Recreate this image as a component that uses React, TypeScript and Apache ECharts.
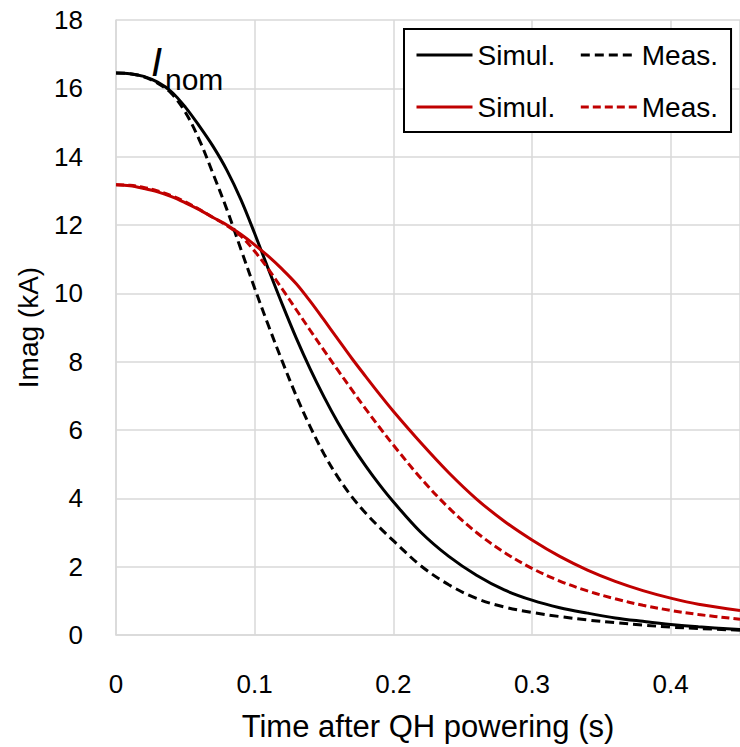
import React, { useEffect, useRef } from "react";
import * as echarts from "echarts";

// Time after QH powering (s)
const timeS = [
  0, 0.01, 0.02, 0.03, 0.04, 0.05, 0.06, 0.07, 0.08, 0.09, 0.1, 0.11, 0.12, 0.13, 0.14,
  0.15, 0.16, 0.17, 0.18, 0.19, 0.2, 0.22, 0.24, 0.26, 0.28, 0.3, 0.32, 0.34, 0.36, 0.38,
  0.4, 0.42, 0.45,
];

// Imag (kA)
const simNominal = [
  16.45, 16.43, 16.35, 16.18, 15.9, 15.45, 14.9, 14.3, 13.6, 12.75, 11.75, 10.7, 9.67, 8.69, 7.79,
  6.97, 6.22, 5.55, 4.95, 4.4, 3.9, 3.0, 2.3, 1.75, 1.32, 1.02, 0.8, 0.64, 0.5, 0.4,
  0.31, 0.24, 0.16,
];
const measNominal = [
  16.45, 16.43, 16.34, 16.15, 15.85, 15.3, 14.5, 13.5, 12.45, 11.3, 10.15, 9.05, 8.0, 7.0, 6.1,
  5.3, 4.62, 4.05, 3.57, 3.15, 2.76, 2.02, 1.47, 1.07, 0.82, 0.66, 0.54, 0.44, 0.36, 0.29,
  0.23, 0.19, 0.14,
];
const simLower = [
  13.18, 13.15, 13.07, 12.97, 12.83, 12.65, 12.45, 12.22, 12.0, 11.73, 11.42, 11.08, 10.7, 10.28, 9.77,
  9.22, 8.66, 8.1, 7.57, 7.05, 6.55, 5.62, 4.75, 3.98, 3.33, 2.78, 2.3, 1.9, 1.57, 1.3,
  1.08, 0.9, 0.72,
];
const measLower = [
  13.18, 13.16, 13.1, 13.0, 12.86, 12.68, 12.46, 12.22, 11.98, 11.68, 11.23, 10.7, 10.12, 9.52, 8.92,
  8.33, 7.75, 7.18, 6.62, 6.08, 5.56, 4.58, 3.72, 3.0, 2.42, 1.95, 1.58, 1.29, 1.06, 0.87,
  0.72, 0.6, 0.46,
];

const yTicks = { min: 0, max: 18, interval: 2 };
const xTicks = { min: 0, max: 0.45, interval: 0.1 };

const BLACK = "#000000";
const RED = "#C00000";
const FONT = "Liberation Sans";

const pairs = (vals: number[]) => timeS.map((t, i) => [t, vals[i]]);

export default function App() {
  const ref = useRef<HTMLDivElement>(null);
  useEffect(() => {
    if (!ref.current) return;
    const chart = echarts.init(ref.current, null, { renderer: "svg" });
    const mk = (name: string, vals: number[], color: string, dash: any) => ({
      name,
      type: "line",
      data: pairs(vals),
      symbol: "none",
      smooth: 0.35,
      lineStyle: { color, width: 3, type: dash },
      itemStyle: { color },
      z: 3,
    });
    chart.setOption({
      animation: false,
      backgroundColor: "#ffffff",
      textStyle: { fontFamily: FONT },
      grid: { left: 116, top: 20, width: 632, height: 619.5, containLabel: false },
      xAxis: {
        type: "value",
        min: xTicks.min,
        max: xTicks.max,
        interval: xTicks.interval,
        name: "Time after QH powering (s)",
        nameLocation: "middle",
        nameGap: 76,
        nameTextStyle: { fontSize: 31, color: "#000", fontFamily: FONT },
        axisLine: { show: true, lineStyle: { color: "#D9D9D9", width: 1.5 } },
        axisTick: { show: false },
        axisLabel: {
          fontSize: 26,
          color: "#000",
          margin: 36,
          fontFamily: FONT,
          showMaxLabel: false,
          formatter: (v: number) => String(Math.round(v * 10) / 10),
        },
        splitLine: { show: true, lineStyle: { color: "#D9D9D9", width: 1.5 } },
      },
      yAxis: {
        type: "value",
        min: yTicks.min,
        max: yTicks.max,
        interval: yTicks.interval,
        name: "Imag (kA)",
        nameLocation: "middle",
        nameGap: 74,
        nameTextStyle: { fontSize: 28, color: "#000", fontFamily: FONT },
        axisLine: { show: true, lineStyle: { color: "#D9D9D9", width: 1.5 } },
        axisTick: { show: false },
        axisLabel: { fontSize: 26, color: "#000", margin: 33, fontFamily: FONT },
        splitLine: { show: true, lineStyle: { color: "#D9D9D9", width: 1.5 } },
      },
      legend: {
        left: 404,
        top: 29,
        width: 320,
        orient: "horizontal",
        padding: [12, 13, 11, 11],
        itemGap: 24,
        itemWidth: 56,
        itemHeight: 14,
        itemTextGap: 7,
        backgroundColor: "#ffffff",
        borderColor: "#000",
        borderWidth: 2,
        borderRadius: 0,
        z: 10,
        itemStyle: { opacity: 0, borderWidth: 0 },
        lineStyle: { width: 3 },
        data: ["Simul. 1", "Meas. 1", "Simul. 2", "Meas. 2"],
        formatter: (n: string) => n.replace(/ \d$/, ""),
        textStyle: { fontSize: 28, lineHeight: 28, color: "#000", fontFamily: FONT },
      },
      graphic: [
        {
          type: "text",
          left: 151,
          top: 42,
          z: 20,
          style: { text: "I", fontSize: 40, fontStyle: "italic", fontFamily: FONT, fill: "#000" },
        },
        {
          type: "text",
          left: 165,
          top: 64,
          z: 20,
          style: { text: "nom", fontSize: 30, fontFamily: FONT, fill: "#000" },
        },
      ],
      series: [
        mk("Simul. 1", simNominal, BLACK, "solid"),
        mk("Meas. 1", measNominal, BLACK, [9, 5]),
        mk("Simul. 2", simLower, RED, "solid"),
        mk("Meas. 2", measLower, RED, [8, 4]),
      ],
    });
    return () => chart.dispose();
  }, []);
  return (
    <div
      ref={ref}
      style={{ position: "absolute", left: 0, top: 0, width: 740, height: 747 }}
    />
  );
}
